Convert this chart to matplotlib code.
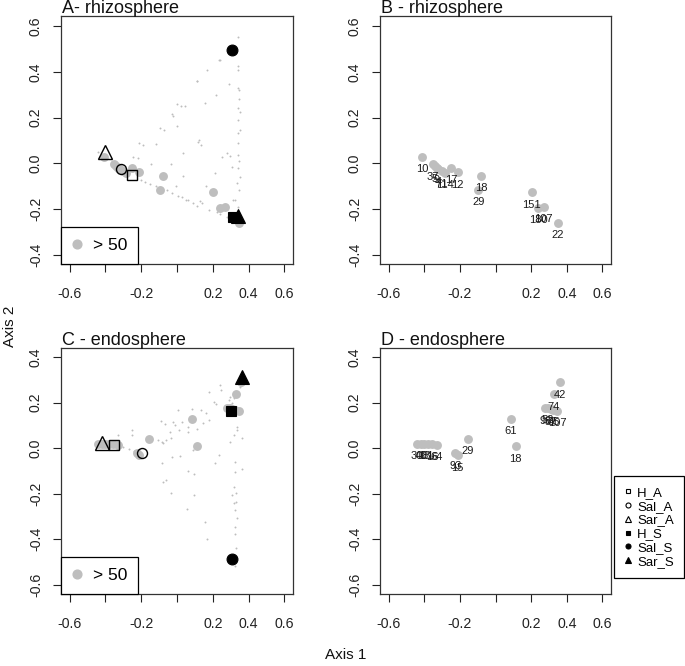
import matplotlib
matplotlib.use("Agg")
import matplotlib.pyplot as plt
from matplotlib.lines import Line2D

plt.rcParams['font.family'] = ['Liberation Sans', 'DejaVu Sans']

W, H = 685, 666
GRAY = '#bebebe'
DOT = '#bdbdbd'

# ---------------- data ----------------
groups = ["H_A", "Sal_A", "Sar_A", "H_S", "Sal_S", "Sar_S"]
group_marker = ['s', 'o', '^', 's', 'o', '^']
group_filled = [False, False, False, True, True, True]

# rhizosphere centroids (panel A)
rh_cent_x = [-0.250, -0.312, -0.400, 0.314, 0.308, 0.342]
rh_cent_y = [-0.049, -0.024, 0.051, -0.233, 0.495, -0.230]
# endosphere centroids (panel C)
en_cent_x = [-0.350, -0.196, -0.420, 0.301, 0.308, 0.364]
en_cent_y = [0.016, -0.023, 0.025, 0.163, -0.488, 0.312]

# rhizosphere taxa with > 50 reads (A, B)
rh_big_lab = ["10", "37", "5", "9", "4", "71", "114", "17", "12", "18", "29", "151", "180", "107", "22"]
rh_big_x = [-0.410, -0.352, -0.340, -0.330, -0.320, -0.300, -0.285, -0.249, -0.212, -0.080, -0.097, 0.203, 0.240, 0.270, 0.349]
rh_big_y = [0.028, -0.005, -0.012, -0.020, -0.025, -0.035, -0.042, -0.020, -0.040, -0.054, -0.116, -0.126, -0.195, -0.190, -0.259]

# rhizosphere remaining taxa (A)
rh_small_x = [0.339, 0.238, 0.168, 0.342, 0.340, 0.110, 0.288, 0.346, 0.217, 0.348, 0.000, 0.024, 0.045,
              0.159, -0.026, -0.022, 0.352, -0.093, -0.071, 0.002, 0.352, 0.123, -0.441, -0.211, -0.188,
              -0.118, 0.120, 0.135, 0.036, -0.248, -0.217, -0.146, -0.034, 0.036, -0.006, -0.179, -0.151,
              -0.200, -0.054, 0.008, 0.026, 0.049, 0.126, 0.138, 0.163, 0.210, 0.251, 0.307, 0.344, 0.353,
              0.335, 0.344, 0.325, 0.176, 0.223, 0.092, 0.110, 0.338, 0.340, 0.341, 0.339, 0.342, 0.340,
              0.343, 0.277, 0.295, 0.314, 0.342, -0.120, -0.030, 0.060, 0.240, 0.280, 0.234, 0.112]
rh_small_y = [0.552, 0.450, 0.406, 0.425, 0.408, 0.358, 0.348, 0.319, 0.297, 0.280, 0.261, 0.251, 0.249,
              0.265, 0.217, 0.207, 0.226, 0.155, 0.145, 0.162, 0.145, 0.104, 0.051, 0.088, 0.080,
              0.085, 0.095, 0.080, 0.044, 0.029, 0.025, -0.004, -0.004, -0.055, -0.099, -0.080, -0.090,
              -0.075, -0.116, -0.142, -0.148, -0.160, -0.164, -0.174, -0.099, -0.043, 0.029, -0.014, 0.012, -0.058,
              -0.087, -0.116, -0.160, -0.203, -0.211, -0.174, -0.185, 0.190, 0.131, 0.088, 0.037, -0.022, 0.328,
              0.241, 0.044, 0.030, -0.160, -0.189, -0.101, -0.131, -0.161, -0.220, -0.234, 0.452, 0.361]

# endosphere taxa with > 50 reads (C, D)
en_big_lab = ["30", "40", "13", "81", "16", "64", "93", "15", "29", "61", "18", "42", "74", "98", "52", "57", "35", "107"]
en_big_x = [-0.440, -0.420, -0.400, -0.380, -0.355, -0.330, -0.225, -0.213, -0.157, 0.086, 0.114, 0.360, 0.328, 0.280, 0.295, 0.310, 0.325, 0.345]
en_big_y = [0.020, 0.020, 0.019, 0.019, 0.018, 0.016, -0.022, -0.030, 0.041, 0.130, 0.009, 0.290, 0.236, 0.175, 0.178, 0.172, 0.168, 0.165]

# endosphere remaining taxa (C)
en_small_x = [0.241, 0.247, 0.176, 0.204, 0.217, 0.008, 0.082, 0.135, 0.161, -0.090, -0.067, -0.020, -0.011,
              0.026, 0.060, 0.110, 0.148, 0.176, -0.250, -0.254, -0.329, -0.039, 0.011, 0.060, -0.108, -0.086,
              -0.063, -0.034, -0.076, 0.092, 0.232, -0.030, 0.017, -0.086, 0.213, 0.325, 0.363, 0.325, 0.060,
              0.095, -0.063, -0.076, 0.297, 0.363, 0.316, 0.335, 0.335, 0.288, 0.297, 0.320, 0.309, 0.329,
              0.094, 0.320, 0.331, 0.056, 0.323, 0.337, 0.155, 0.323, 0.323, 0.168, 0.329, 0.323, -0.032,
              -0.300, -0.270, -0.240, 0.310, 0.320, 0.350, 0.312, -0.360]
en_small_y = [0.276, 0.254, 0.247, 0.204, 0.193, 0.170, 0.174, 0.170, 0.156, 0.120, 0.108, 0.115, 0.100,
              0.115, 0.093, 0.086, 0.111, 0.123, 0.079, 0.057, 0.057, 0.072, 0.082, 0.072, 0.035, 0.028,
              0.038, 0.043, 0.021, -0.009, -0.030, -0.038, -0.035, -0.064, -0.067, -0.060, -0.093, -0.104, -0.100,
              -0.111, -0.140, -0.148, 0.028, 0.047, 0.057, 0.093, 0.079, 0.210, 0.225, -0.172, -0.206, -0.196,
              -0.206, -0.242, -0.235, -0.268, -0.271, -0.305, -0.323, -0.345, -0.378, -0.398, -0.439, -0.517, -0.198,
              0.005, -0.003, -0.012, 0.200, 0.220, 0.270, -0.505, 0.030]

xticks = [-0.6, -0.4, -0.2, 0.0, 0.2, 0.4, 0.6]
xtick_labels = ["-0.6", "", "-0.2", "", "0.2", "0.4", "0.6"]
rh_yticks = [-0.4, -0.2, 0.0, 0.2, 0.4, 0.6]
rh_ytick_labels = ["-0.4", "-0.2", "0.0", "0.2", "0.4", "0.6"]
en_yticks = [-0.6, -0.4, -0.2, 0.0, 0.2, 0.4]
en_ytick_labels = ["-0.6", "-0.4", "-0.2", "0.0", "0.2", "0.4"]

titles = ["A- rhizosphere", "B - rhizosphere", "C - endosphere", "D - endosphere"]

# ---------------- figure ----------------
fig = plt.figure(figsize=(W / 100, H / 100), dpi=100)


def make_ax(left, top, right, bottom):
    return fig.add_axes([left / W, 1 - bottom / H, (right - left) / W, (bottom - top) / H])


axA = make_ax(61, 16, 293, 264)
axB = make_ax(380, 16, 611, 264)
axC = make_ax(61, 348, 293, 594)
axD = make_ax(380, 348, 611, 594)


def style(ax, yticks, ylabels, ylim, title):
    ax.set_xlim(-0.648, 0.648)
    ax.set_ylim(*ylim)
    ax.set_xticks(xticks)
    ax.set_xticklabels(xtick_labels)
    ax.set_yticks(yticks)
    ax.set_yticklabels(ylabels, rotation=90, va='center')
    ax.tick_params(direction='out', length=5.5, width=0.8, labelsize=10.2, pad=11, colors='#222222')
    ax.tick_params(axis='y', pad=7.5)
    for s in ax.spines.values():
        s.set_linewidth(0.9)
        s.set_color('#333333')
    ax.annotate(title, xy=(0, 1), xycoords='axes fraction', xytext=(0.5, 2.2),
                textcoords='offset points', ha='left', va='baseline', fontsize=13, color='#111111')


style(axA, rh_yticks, rh_ytick_labels, (-0.44, 0.644), titles[0])
style(axB, rh_yticks, rh_ytick_labels, (-0.44, 0.644), titles[1])
style(axC, en_yticks, en_ytick_labels, (-0.64, 0.44), titles[2])
style(axD, en_yticks, en_ytick_labels, (-0.64, 0.44), titles[3])


def centroids(ax, xs, ys):
    sizes = {'s': 7.2, 'o': 7.2, '^': 9.4}
    for x, y, m, f in zip(xs, ys, group_marker, group_filled):
        ax.plot([x], [y], ls='', marker=m, ms=sizes[m] if not (f and m == 'o') else 7.8,
                mfc='black' if f else 'none', mec='black', mew=1.0 if not f else 0.8, zorder=5)


def big50_legend(ax):
    h = Line2D([], [], ls='', marker='o', color=GRAY, ms=6.3)
    leg = ax.legend([h], ['> 50'], loc='lower left', bbox_to_anchor=(0, 0), borderaxespad=0,
                    frameon=True, fancybox=False, edgecolor='black', fontsize=12.5,
                    borderpad=0.62, handlelength=0.6, handletextpad=0.62, framealpha=1)
    leg.get_frame().set_linewidth(0.9)


# panel A
axA.plot(rh_small_x, rh_small_y, ls='', marker='o', ms=1.4, color=DOT, mew=0, zorder=2)
axA.plot(rh_big_x, rh_big_y, ls='', marker='o', ms=6.4, color=GRAY, mew=0, zorder=3)
centroids(axA, rh_cent_x, rh_cent_y)
big50_legend(axA)

# panel B
axB.plot(rh_big_x, rh_big_y, ls='', marker='o', ms=6.4, color=GRAY, mew=0, zorder=3)
for lab, x, y in zip(rh_big_lab, rh_big_x, rh_big_y):
    axB.annotate(lab, (x, y), xytext=(0, -9), textcoords='offset points', ha='center', va='center',
                 fontsize=8, color='#1a1a1a', zorder=4)

# panel C
axC.plot(en_small_x, en_small_y, ls='', marker='o', ms=1.4, color=DOT, mew=0, zorder=2)
axC.plot(en_big_x, en_big_y, ls='', marker='o', ms=6.4, color=GRAY, mew=0, zorder=3)
centroids(axC, en_cent_x, en_cent_y)
big50_legend(axC)

# panel D
axD.plot(en_big_x, en_big_y, ls='', marker='o', ms=6.4, color=GRAY, mew=0, zorder=3)
for lab, x, y in zip(en_big_lab, en_big_x, en_big_y):
    axD.annotate(lab, (x, y), xytext=(0, -9), textcoords='offset points', ha='center', va='center',
                 fontsize=8, color='#1a1a1a', zorder=4)

# group legend
leg_sizes = {'s': 3.4, 'o': 3.6, '^': 4.4}
handles = [Line2D([], [], ls='', marker=m, ms=leg_sizes[m], mfc='black' if f else 'none',
                  mec='black', mew=0.8) for m, f in zip(group_marker, group_filled)]
leg = fig.legend(handles, groups, loc='upper left', bbox_to_anchor=(614 / W, 1 - 476 / H),
                 borderaxespad=0, frameon=True, fancybox=False, edgecolor='black', fontsize=9.5,
                 borderpad=0.8, labelspacing=0.12, handlelength=0.5, handletextpad=0.45, framealpha=1)
leg.get_frame().set_linewidth(0.9)

fig.text(346 / W, 1 - 655 / H, "Axis 1", ha='center', va='center', fontsize=11, color='#111111')
fig.text(10 / W, 1 - 326 / H, "Axis 2", ha='center', va='center', rotation=90, fontsize=11, color='#111111')

fig.savefig("out.png", dpi=100)
